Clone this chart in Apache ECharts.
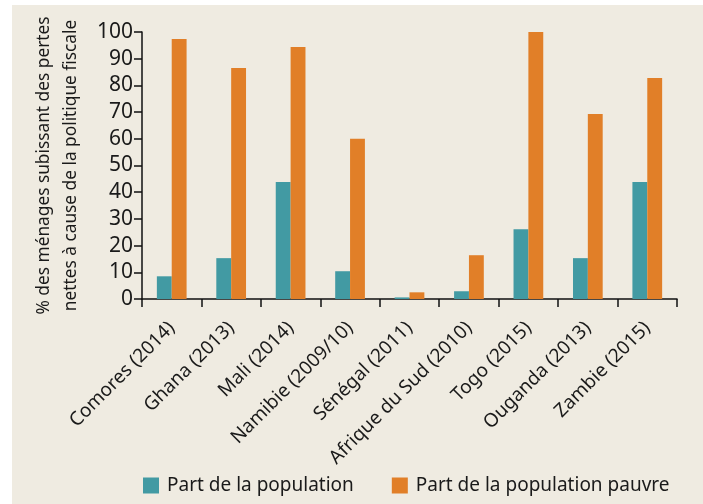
<!DOCTYPE html>
<html>
<head>
<meta charset="utf-8">
<script src="https://cdn.jsdelivr.net/npm/echarts@6/dist/echarts.min.js"></script>
<style>
html,body{margin:0;padding:0;background:#ffffff;}
#bg{position:absolute;left:12px;top:5px;width:691px;height:499px;background:#efebe1;}
#chart{position:absolute;left:0;top:0;width:703px;height:504px;}
</style>
</head>
<body>
<div id="bg"></div>
<div id="chart"></div>
<script>
const categories = ["Comores (2014)", "Ghana (2013)", "Mali (2014)", "Namibie (2009/10)", "Sénégal (2011)", "Afrique du Sud (2010)", "Togo (2015)", "Ouganda (2013)", "Zambie (2015)"];
const partPopulation = [8.5, 15.3, 43.8, 10.4, 0.6, 2.9, 26.1, 15.3, 43.8];
const partPopulationPauvre = [97.4, 86.5, 94.4, 60.0, 2.5, 16.4, 100, 69.3, 82.8];
const seriesNames = ["Part de la population", "Part de la population pauvre"];
const yTitle = "% des ménages subissant des pertes\nnettes à cause de la politique fiscale";

const FONT = "Noto Sans";
const chart = echarts.init(document.getElementById('chart'), null, {renderer: 'canvas'});
chart.setOption({
  backgroundColor: 'transparent',
  animation: false,
  textStyle: {fontFamily: FONT},
  grid: {left: 142, right: 26, top: 32, bottom: 205, containLabel: false},
  legend: {
    left: 138, top: 471,
    itemWidth: 16, itemHeight: 16, itemGap: 38,
    icon: 'rect',
    textStyle: {fontFamily: FONT, fontSize: 19, color: '#1a1a1a', padding: [0, 0, 0, 3]},
    data: seriesNames
  },
  xAxis: {
    type: 'category',
    data: categories,
    boundaryGap: true,
    axisLine: {lineStyle: {color: '#111', width: 1.5}},
    axisTick: {show: true, length: 8, inside: false, lineStyle: {color: '#111', width: 1.5}},
    axisLabel: {rotate: 45, interval: 0, margin: 26, fontFamily: FONT, fontSize: 19, color: '#1a1a1a'}
  },
  yAxis: {
    type: 'value',
    min: 0, max: 100, interval: 10,
    name: yTitle,
    nameLocation: 'middle',
    nameRotate: 90,
    nameGap: 57,
    nameTextStyle: {fontFamily: FONT, fontSize: 17.3, color: '#1a1a1a', lineHeight: 27, align: 'center'},
    splitLine: {show: false},
    axisLine: {show: true, lineStyle: {color: '#111', width: 1.5}},
    axisTick: {show: true, length: 8, lineStyle: {color: '#111', width: 1.5}},
    axisLabel: {margin: 9, fontFamily: FONT, fontSize: 21, color: '#1a1a1a'}
  },
  series: [
    {name: seriesNames[0], type: 'bar', data: partPopulation, barGap: '0%', barCategoryGap: '50%', itemStyle: {color: '#429aa3'}},
    {name: seriesNames[1], type: 'bar', data: partPopulationPauvre, barGap: '0%', barCategoryGap: '50%', itemStyle: {color: '#e17f28'}}
  ]
});
</script>
</body>
</html>
